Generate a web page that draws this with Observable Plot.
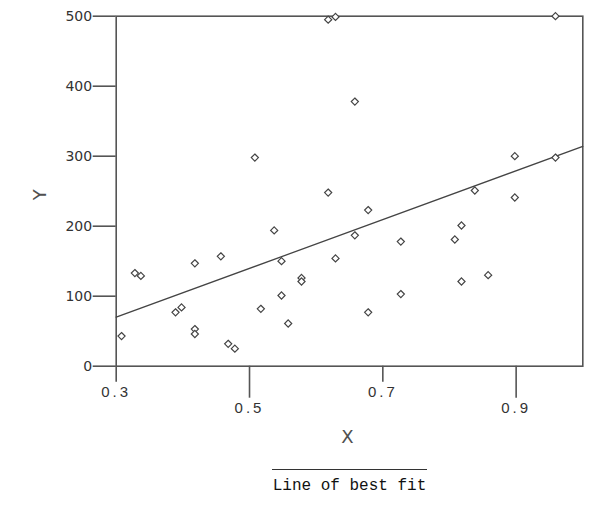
<!DOCTYPE html>
<html><head><meta charset="utf-8">
<script src="https://cdn.jsdelivr.net/npm/d3@7"></script>
<script src="https://cdn.jsdelivr.net/npm/@observablehq/plot@0.6"></script>
<style>
body{margin:0;background:#fff}
#wrap{position:relative;width:602px;height:523px}
#legend{position:absolute;left:272px;top:469px;width:155px;border-top:1.5px solid #333;font:16px "Liberation Mono",monospace;color:#111;text-align:center;padding-top:7px;line-height:18px}
</style></head>
<body><div id="wrap"><div id="legend"></div></div>
<script>
const xs = [0.618,0.629,0.508,0.618,0.959,0.658,0.898,0.959,0.838,0.898,
            0.537,0.457,0.418,0.548,0.629,0.328,0.337,0.578,0.578,0.548,
            0.398,0.389,0.517,0.558,0.418,0.418,0.308,0.468,0.478,0.678,
            0.818,0.658,0.727,0.808,0.858,0.818,0.727,0.678];
const ys = [495,499,298,248,500,378,300,298,251,241,
            194,157,147,150,154,133,129,126,121,101,
            84,77,82,61,53,46,43,32,25,223,
            201,187,178,181,130,121,103,77];
const fitX = [0.3, 1.0];
const fitY = [70, 314];
const xTicksShort = [0.3, 0.7];
const xTicksLong = [0.5, 0.9];
const yTicks = [0, 100, 200, 300, 400, 500];
const xTitle = "X", yTitle = "Y", legendLabel = "Line of best fit";

const points = xs.map((x, i) => ({x, y: ys[i]}));
const fit = fitX.map((x, i) => ({x, y: fitY[i]}));

const chart = Plot.plot({
  width: 602, height: 523,
  marginLeft: 115.7, marginRight: 19.7, marginTop: 15.7, marginBottom: 157.3,
  x: {domain: [0.3, 1.0]},
  y: {domain: [0, 500]},
  style: {fontFamily: "DejaVu Sans", color: "#333", background: "white", overflow: "visible"},
  marks: [
    Plot.frame({stroke: "#555", strokeWidth: 1.6}),
    Plot.axisY({ticks: yTicks, tickSize: 23, tickPadding: 1, fontSize: 14, tickFormat: d => String(d), label: null, stroke: "#555", strokeWidth: 1.6}),
    Plot.axisX({ticks: xTicksShort, tickSize: 16, tickPadding: 4, fontSize: 15, fontFamily: "Liberation Sans", tickFormat: d => d.toFixed(1), label: null, stroke: "#555", strokeWidth: 1.6}),
    Plot.axisX({ticks: xTicksLong, tickSize: 32, tickPadding: 4, fontSize: 15, fontFamily: "Liberation Sans", tickFormat: d => d.toFixed(1), label: null, stroke: "#555", strokeWidth: 1.6}),
    Plot.line(fit, {x: "x", y: "y", stroke: "#444", strokeWidth: 1.3}),
    Plot.dot(points, {x: "x", y: "y", symbol: "diamond2", r: 3.2, fill: "white", stroke: "#444", strokeWidth: 1.2}),
    Plot.text([yTitle], {text: d => d, frameAnchor: "left", dx: -76, dy: 9, rotate: -90, fontSize: 18, fill: "#505050"}),
    Plot.text([xTitle], {text: d => d, frameAnchor: "bottom", dx: -2, dy: 77, fontSize: 18, fill: "#505050"})
  ]
});
d3.select(chart).selectAll('g[aria-label="x-axis tick label"] text').attr("letter-spacing", "3px");
document.getElementById("wrap").prepend(chart);
document.getElementById("legend").textContent = legendLabel;
</script>
</body></html>
